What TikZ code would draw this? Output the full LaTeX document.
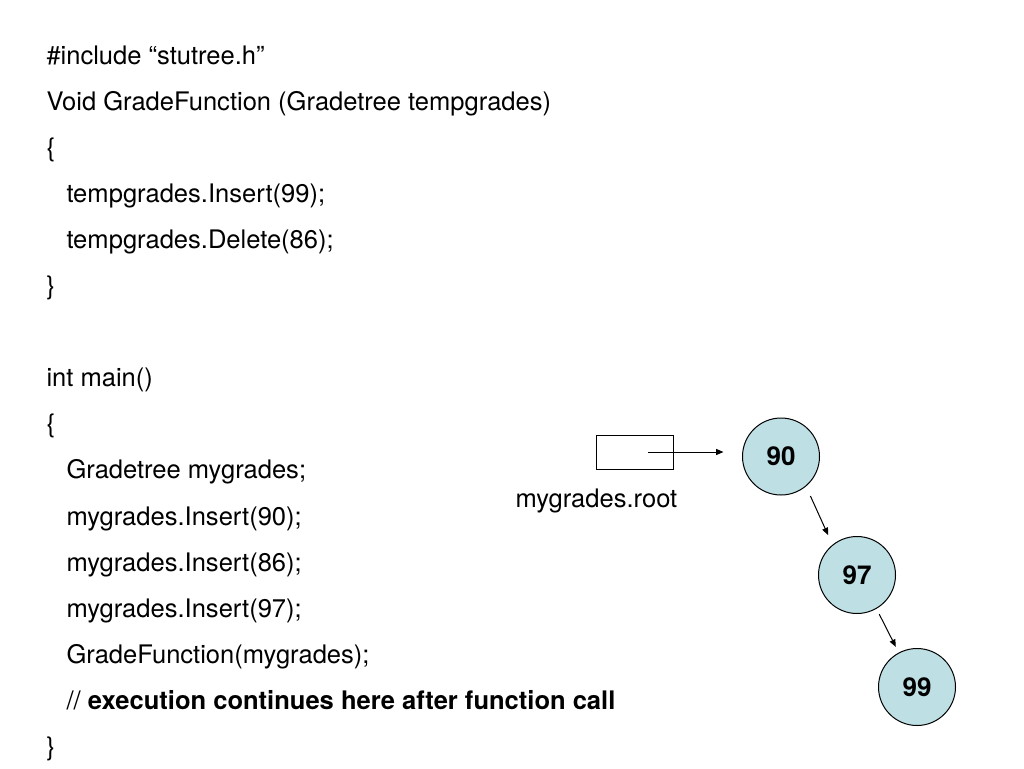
\documentclass[tikz,border=0pt]{standalone}
\usepackage{fontspec}
\setmainfont{TeX Gyre Heros}
\usetikzlibrary{arrows.meta}
\definecolor{nodecyan}{RGB}{190,224,228}

\begin{document}
\begin{tikzpicture}[x=0.75pt,y=-0.75pt,line width=0.75pt,
  code/.style={anchor=base west,inner sep=0pt,font=\fontsize{19.15}{23}\selectfont},
  treenode/.style={circle,draw,fill=nodecyan,minimum size=57.75pt,inner sep=0pt,
    font=\fontsize{19.5}{23}\selectfont\bfseries},
  ptr/.style={-{Triangle[length=5.5pt,width=4.5pt]}}]
\useasboundingbox (0,0) rectangle (1024,768);
% code listing, one line per node
\foreach \n/\x/\txt in
{0/46/{\#include “stutree.h”}, 1/46/{Void GradeFunction (Gradetree tempgrades)},
2/46/{\{}, 3/66/{tempgrades.Insert(99);}, 4/66/{tempgrades.Delete(86);},
5/46/{\}}, 7/46/{int main()}, 8/46/{\{}, 9/66/{Gradetree mygrades;},
10/66/{mygrades.Insert(90);}, 11/66/{mygrades.Insert(86);},
12/66/{mygrades.Insert(97);}, 13/66/{GradeFunction(mygrades);},
14/66/{// \textbf{execution continues here after function call}}, 15/46/{\}}}
\node[code] (line\n) at (\x,64+46.1*\n) {\txt};
% root pointer
\node[draw,minimum width=57.75pt,minimum height=25.5pt,inner sep=0pt] (rootbox) at (635.3,452) {};
\coordinate (rootptr) at (648,452);
\node[code] (rootlabel) at (515,507) {mygrades.root};
% tree
\node[treenode] (n90) at (781,456.5) {90};
\node[treenode] (n97) at (857,575) {97};
\node[treenode] (n99) at (917,687) {99};
\draw[ptr,shorten >=13.9pt] (rootptr) -- (rootptr -| n90.west);
\draw[ptr,shorten <=7.9pt,shorten >=7.9pt] (n90.-50) -- (n97.129);
\draw[ptr,shorten <=4.5pt,shorten >=4.8pt] (n97.-60) -- (n99.118);
\end{tikzpicture}
\end{document}
